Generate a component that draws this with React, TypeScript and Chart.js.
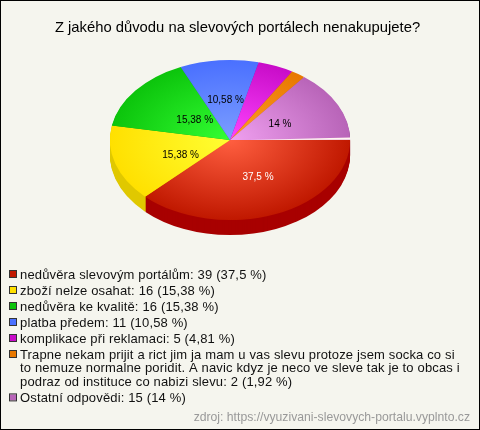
import React, { useEffect, useRef } from "react";
import { Chart, registerables } from "chart.js";

Chart.register(...registerables);

const titleText = "Z jakého důvodu na slevových portálech nenakupujete?";
const sourceText = "zdroj: https://vyuzivani-slevovych-portalu.vyplnto.cz";
const categories = [
  "nedůvěra slevovým portálům",
  "zboží nelze osahat",
  "nedůvěra ke kvalitě",
  "platba předem",
  "komplikace při reklamaci",
  "Trapne nekam prijit a rict jim ja mam u vas slevu protoze jsem socka co si to nemuze normalne poridit. A navic kdyz je neco ve sleve tak je to obcas i podraz od instituce co nabizi slevu",
  "Ostatní odpovědi",
];
const counts = [39, 16, 16, 11, 5, 2, 15];
const percentLabels = ["37,5 %", "15,38 %", "15,38 %", "10,58 %", "4,81 %", "1,92 %", "14 %"];
const legendLines = [
  ["nedůvěra slevovým portálům: 39 (37,5 %)"],
  ["zboží nelze osahat: 16 (15,38 %)"],
  ["nedůvěra ke kvalitě: 16 (15,38 %)"],
  ["platba předem: 11 (10,58 %)"],
  ["komplikace při reklamaci: 5 (4,81 %)"],
  [
    "Trapne nekam prijit a rict jim ja mam u vas slevu protoze jsem socka co si",
    "to nemuze normalne poridit. A navic kdyz je neco ve sleve tak je to obcas i",
    "podraz od instituce co nabizi slevu: 2 (1,92 %)",
  ],
  ["Ostatní odpovědi: 15 (14 %)"],
];
const innerColors = ["#ff5f40", "#ffff33", "#33ff33", "#7c9eff", "#ff44ff", "#ff9c24", "#f0a0f0"];
const outerColors = ["#c01800", "#ffe000", "#0cc40c", "#4a70ff", "#c80cc8", "#e87800", "#b864b8"];
const wallColors = ["#a80000", "#e0c800", "#0a9a0a", "#3050c0", "#a000a0", "#c06000", "#904a90"];
const labelColors = ["#ffffff", "#000000", "#000000", "#000000", "", "", "#000000"];
const labelNudgeX = [5, 8, 12, 1, 0, 0, -4];
const labelNudgeY = [0, 3, 5, 0, 0, 0, 2];

const BG = "#f5f5ee";
const FONT = '"Liberation Sans", Arial, sans-serif';
const SQUASH = 2 / 3;
const DEPTH = 15;
const TARGET_CX = 230;
const TARGET_CY = 140;

const piePlugin = {
  id: "tiltedPie",
  beforeDatasetsDraw(chart: any) {
    const { ctx } = chart;
    const arcs = chart.getDatasetMeta(0).data;
    const a0 = arcs[0];
    const apply = (extra: number) => {
      ctx.translate(TARGET_CX, TARGET_CY + extra);
      ctx.scale(1, SQUASH);
      ctx.translate(-a0.x, -a0.y);
    };
    for (let k = DEPTH; k >= 1; k--) {
      arcs.forEach((arc: any, i: number) => {
        ctx.save();
        apply(k);
        ctx.beginPath();
        ctx.moveTo(arc.x, arc.y);
        ctx.arc(arc.x, arc.y, arc.outerRadius, arc.startAngle, arc.endAngle);
        ctx.closePath();
        ctx.fillStyle = wallColors[i];
        ctx.fill();
        ctx.restore();
      });
    }
    ctx.save();
    apply(0);
  },
  afterDatasetsDraw(chart: any) {
    const { ctx } = chart;
    ctx.restore();
    const arcs = chart.getDatasetMeta(0).data;
    const a0 = arcs[0];

    // pale seam where the first slice meets the last one
    ctx.save();
    ctx.fillStyle = "#fff6f0";
    ctx.beginPath();
    ctx.moveTo(TARGET_CX + 20, TARGET_CY);
    ctx.lineTo(TARGET_CX + a0.outerRadius, TARGET_CY - 0.2);
    ctx.lineTo(TARGET_CX + a0.outerRadius, TARGET_CY - 2.4);
    ctx.closePath();
    ctx.fill();
    ctx.restore();

    ctx.save();
    ctx.font = `10px ${FONT}`;
    ctx.textAlign = "center";
    ctx.textBaseline = "middle";
    arcs.forEach((arc: any, i: number) => {
      if (!labelColors[i]) return;
      const p = arc.getCenterPoint();
      const x = TARGET_CX + (p.x - a0.x) + labelNudgeX[i];
      const y = TARGET_CY + (p.y - a0.y) * SQUASH + labelNudgeY[i];
      ctx.fillStyle = labelColors[i];
      ctx.fillText(percentLabels[i], x, y);
    });
    ctx.restore();

    // legend
    ctx.save();
    ctx.font = `13px ${FONT}`;
    (ctx as any).letterSpacing = "0.15px";
    ctx.textAlign = "left";
    ctx.textBaseline = "middle";
    let y = 275;
    legendLines.forEach((lines, i) => {
      ctx.fillStyle = outerColors[i];
      ctx.fillRect(10, y - 4, 6, 6);
      ctx.strokeStyle = "#333333";
      ctx.lineWidth = 1;
      ctx.strokeRect(9.5, y - 4.5, 7, 7);
      ctx.fillStyle = "#111111";
      lines.forEach((line, j) => {
        ctx.fillText(line, 20, y + j * 13.7);
      });
      y += (lines.length - 1) * 13.7 + 16;
    });
    (ctx as any).letterSpacing = "0px";
    ctx.font = `12.2px ${FONT}`;
    ctx.textAlign = "right";
    ctx.fillStyle = "#999999";
    ctx.fillText(sourceText, 470, 418);
    ctx.strokeStyle = "#000000";
    ctx.lineWidth = 2;
    ctx.strokeRect(0, 0, 480, 430);
    ctx.restore();
  },
};

export default function App() {
  const ref = useRef<HTMLCanvasElement>(null);
  useEffect(() => {
    document.body.style.margin = "0";
    const chart = new Chart(ref.current as HTMLCanvasElement, {
      type: "pie",
      data: {
        labels: categories,
        datasets: [
          {
            data: counts,
            borderWidth: 0,
            backgroundColor: (c: any) => {
              const area = c.chart.chartArea;
              const i = c.dataIndex;
              if (!area) return outerColors[i];
              const cx = (area.left + area.right) / 2;
              const cy = (area.top + area.bottom) / 2;
              const g = c.chart.ctx.createRadialGradient(cx, cy, 0, cx, cy, 120);
              g.addColorStop(0, innerColors[i]);
              g.addColorStop(1, outerColors[i]);
              return g;
            },
          },
        ],
      },
      options: {
        responsive: false,
        animation: false,
        rotation: 90,
        layout: { padding: { left: 0, right: 5, top: 0, bottom: 150 } },
        plugins: {
          legend: { display: false },
          tooltip: { enabled: false },
          title: {
            display: true,
            text: titleText,
            color: "#000000",
            font: { family: FONT, size: 14.8, weight: "normal" },
            padding: { top: 19, bottom: 3 },
          },
        },
      },
      plugins: [
        {
          id: "paper",
          beforeDraw(chart: any) {
            chart.ctx.save();
            chart.ctx.fillStyle = BG;
            chart.ctx.fillRect(0, 0, chart.width, chart.height);
            chart.ctx.restore();
          },
        },
        piePlugin,
      ],
    } as any);
    return () => chart.destroy();
  }, []);
  return <canvas ref={ref} width={480} height={430} style={{ display: "block" }} />;
}
